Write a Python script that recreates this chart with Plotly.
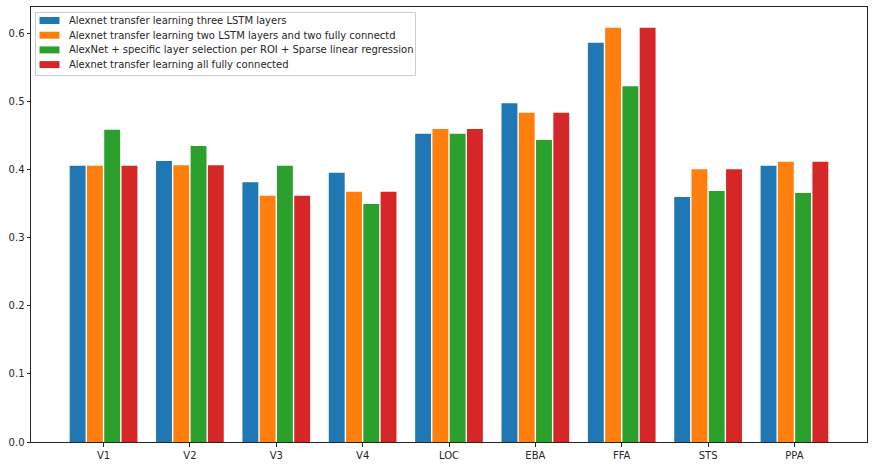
import plotly.graph_objects as go

categories = ["V1", "V2", "V3", "V4", "LOC", "EBA", "FFA", "STS", "PPA"]
series_names = [
    "Alexnet transfer learning three LSTM layers",
    "Alexnet transfer learning two LSTM layers and two fully connectd",
    "AlexNet + specific layer selection per ROI + Sparse linear regression",
    "Alexnet transfer learning all fully connected",
]
three_lstm = [0.406, 0.413, 0.382, 0.396, 0.453, 0.498, 0.587, 0.360, 0.406]
two_lstm_two_fc = [0.406, 0.407, 0.362, 0.368, 0.460, 0.484, 0.609, 0.401, 0.412]
sparse_lr = [0.459, 0.435, 0.406, 0.350, 0.453, 0.444, 0.523, 0.369, 0.366]
all_fc = [0.406, 0.407, 0.362, 0.368, 0.460, 0.484, 0.609, 0.401, 0.412]
colors = ["#1f77b4", "#ff7f0e", "#2ca02c", "#d62728"]

series = [three_lstm, two_lstm_two_fc, sparse_lr, all_fc]
xs = list(range(len(categories)))

W, H = 874, 466
ML, MR, MT, MB = 31, 7, 7, 24
PW, PH = W - ML - MR, H - MT - MB


def px(x):
    return (x - ML) / PW


def py(y):
    return (H - MB - y) / PH


fig = go.Figure()
for name, vals, c in zip(series_names, series, colors):
    fig.add_trace(go.Bar(x=xs, y=vals, name=name, marker=dict(color=c, line=dict(width=0)),
                         showlegend=False))

axis_common = dict(
    showline=True, linecolor="#262626", linewidth=1, mirror=True, automargin=False,
    ticks="outside", ticklen=3.5, tickcolor="#262626", showgrid=False, zeroline=False,
    tickfont=dict(family="DejaVu Sans", size=10, color="#262626"),
)

# custom matplotlib-like legend
shapes = [dict(type="rect", xref="paper", yref="paper",
               x0=px(35.5), x1=px(415.5), y0=py(75.5), y1=py(12.5),
               line=dict(color="#cccccc", width=1), fillcolor="rgba(255,255,255,0.8)", layer="above")]
annotations = []
row_y = [20.5, 35.2, 49.9, 64.6]
for name, c, ry in zip(series_names, colors, row_y):
    shapes.append(dict(type="rect", xref="paper", yref="paper",
                       x0=px(39.5), x1=px(59.5), y0=py(ry + 3.5), y1=py(ry - 3.5),
                       line=dict(width=0), fillcolor=c, layer="above"))
    annotations.append(dict(text=name, xref="paper", yref="paper", x=px(67), y=py(ry),
                            xanchor="left", yanchor="middle", showarrow=False,
                            font=dict(family="DejaVu Sans", size=10, color="#262626")))

fig.update_layout(
    width=W, height=H,
    margin=dict(l=ML, r=MR, t=MT, b=MB),
    paper_bgcolor="white", plot_bgcolor="white",
    barmode="group", bargap=0.2, bargroupgap=0.08,
    xaxis=dict(range=[-0.84, 8.84], tickmode="array", tickvals=xs, ticktext=categories, **axis_common),
    yaxis=dict(range=[0, 0.6395], tickmode="array", tickvals=[0, 0.1, 0.2, 0.3, 0.4, 0.5, 0.6],
               ticktext=["0.0", "0.1", "0.2", "0.3", "0.4", "0.5", "0.6"], **axis_common),
    shapes=shapes, annotations=annotations,
    showlegend=False,
)
fig.write_html("out.html", config={"displayModeBar": False},
               post_script="document.body.style.margin='0';document.body.style.overflow='hidden';")
